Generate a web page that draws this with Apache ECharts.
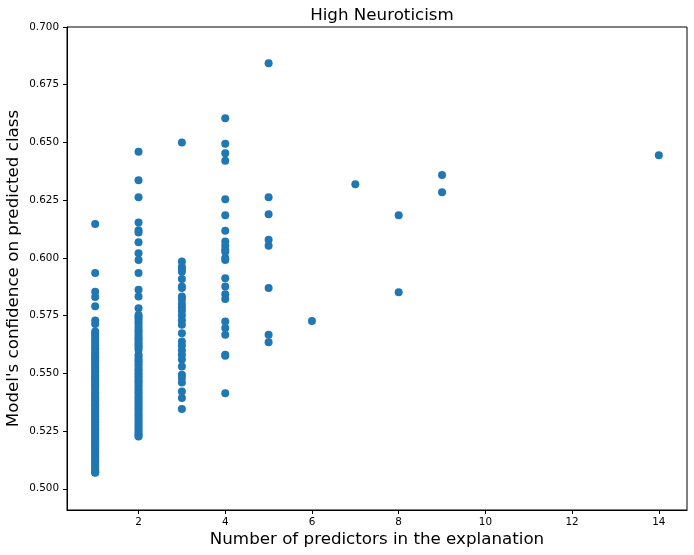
<!DOCTYPE html>
<html>
<head>
<meta charset="utf-8">
<script src="https://cdn.jsdelivr.net/npm/echarts@6/dist/echarts.min.js"></script>
<style>
  html, body { margin: 0; padding: 0; background: #fff; }
  #chart { width: 694px; height: 555px; }
</style>
</head>
<body>
<div id="chart"></div>
<script>
// number of predictors -> model confidence values
const conf1 = [0.6147, 0.5935, 0.5853, 0.5831, 0.5791, 0.5729, 0.5714, 0.5681, 0.5672, 0.5663,
  0.5650, 0.5641, 0.5632, 0.5620, 0.5611, 0.5603, 0.5590, 0.5581, 0.5572, 0.5565, 0.5556,
  0.5548, 0.5537, 0.5528, 0.5519, 0.5510, 0.5502, 0.5491, 0.5483, 0.5474, 0.5466, 0.5455,
  0.5447, 0.5438, 0.5429, 0.5418, 0.5410, 0.5401, 0.5392, 0.5384, 0.5376, 0.5365, 0.5357,
  0.5348, 0.5339, 0.5331, 0.5322, 0.5314, 0.5305, 0.5296, 0.5288, 0.5279, 0.5270, 0.5262,
  0.5253, 0.5244, 0.5236, 0.5227, 0.5218, 0.5210, 0.5201, 0.5193, 0.5184, 0.5176, 0.5167,
  0.5158, 0.5150, 0.5141, 0.5133, 0.5124, 0.5116, 0.5107, 0.5099, 0.5090, 0.5082, 0.5076,
  0.5071, 0.5069];
const conf2 = [0.6460, 0.6336, 0.6263, 0.6153, 0.6120, 0.6110, 0.6068, 0.6020, 0.5991, 0.5934,
  0.5862, 0.5833, 0.5782, 0.5753, 0.5745, 0.5736, 0.5724, 0.5715, 0.5702, 0.5690, 0.5681,
  0.5670, 0.5658, 0.5650, 0.5641, 0.5630, 0.5622, 0.5612, 0.5602, 0.5580, 0.5571, 0.5560,
  0.5552, 0.5541, 0.5532, 0.5520, 0.5511, 0.5500, 0.5490, 0.5481, 0.5470, 0.5461, 0.5450,
  0.5441, 0.5430, 0.5420, 0.5411, 0.5400, 0.5390, 0.5381, 0.5370, 0.5360, 0.5350, 0.5341,
  0.5330, 0.5320, 0.5311, 0.5300, 0.5290, 0.5280, 0.5271, 0.5260, 0.5250, 0.5240, 0.5232,
  0.5226];
const conf3 = [0.6500, 0.5984, 0.5962, 0.5950, 0.5940, 0.5908, 0.5876, 0.5870, 0.5833, 0.5820,
  0.5800, 0.5785, 0.5770, 0.5750, 0.5730, 0.5710, 0.5674, 0.5638, 0.5620, 0.5600, 0.5580,
  0.5560, 0.5530, 0.5494, 0.5480, 0.5460, 0.5421, 0.5393, 0.5345];
const conf4 = [0.6605, 0.6494, 0.6453, 0.6421, 0.6254, 0.6185, 0.6117, 0.6071, 0.6053, 0.6035,
  0.6027, 0.6000, 0.5991, 0.5912, 0.5876, 0.5843, 0.5822, 0.5724, 0.5696, 0.5667, 0.5580,
  0.5576, 0.5414];
const conf5 = [0.6843, 0.6263, 0.6189, 0.6078, 0.6053, 0.5869, 0.5667, 0.5635];
const conf6 = [0.5727];
const conf7 = [0.6319];
const conf8 = [0.6185, 0.5851];
const conf9 = [0.6359, 0.6284];
const conf14 = [0.6445];

const predictorCounts = [1, 2, 3, 4, 5, 6, 7, 8, 9, 14];
const confByCount = [conf1, conf2, conf3, conf4, conf5, conf6, conf7, conf8, conf9, conf14];

const xTicks = [2, 4, 6, 8, 10, 12, 14];
const yTicks = [0.500, 0.525, 0.550, 0.575, 0.600, 0.625, 0.650, 0.675, 0.700];

const points = [];
predictorCounts.forEach((n, i) => {
  confByCount[i].forEach(v => points.push([n, v]));
});

const axisText = { color: '#000', fontSize: 10.4, fontFamily: 'DejaVu Sans' };
const nameText = { color: '#000', fontSize: 16.7, fontFamily: 'DejaVu Sans' };

const myChart = echarts.init(document.getElementById('chart'));
myChart.setOption({
  animation: false,
  backgroundColor: '#fff',
  title: {
    text: 'High Neuroticism',
    left: 377,
    top: 2,
    textAlign: 'center',
    textStyle: { color: '#000', fontSize: 16.7, fontWeight: 'normal', fontFamily: 'DejaVu Sans' }
  },
  grid: {
    left: 67, right: 7, top: 27, bottom: 45,
    outerBoundsMode: 'none',
    containLabel: false,
    show: true, borderColor: '#000', borderWidth: 1, backgroundColor: 'transparent'
  },
  xAxis: {
    type: 'value',
    min: 0.35,
    max: 14.65,
    name: 'Number of predictors in the explanation',
    nameLocation: 'middle',
    nameGap: 21,
    nameMoveOverlap: false,
    nameTextStyle: nameText,
    axisLine: { onZero: false, lineStyle: { color: '#000', width: 1 } },
    axisTick: { show: true, length: 4, customValues: xTicks, lineStyle: { color: '#000' } },
    axisLabel: Object.assign({ customValues: xTicks, margin: 7 }, axisText),
    splitLine: { show: false }
  },
  yAxis: {
    type: 'value',
    min: 0.4908,
    max: 0.7,
    name: "Model's confidence on predicted class",
    nameLocation: 'middle',
    nameGap: 45,
    nameMoveOverlap: false,
    nameTextStyle: nameText,
    axisLine: { onZero: false, lineStyle: { color: '#000', width: 1 } },
    axisTick: { show: true, length: 4, customValues: yTicks, lineStyle: { color: '#000' } },
    axisLabel: Object.assign({
      customValues: yTicks,
      margin: 8,
      formatter: v => v.toFixed(3)
    }, axisText),
    splitLine: { show: false }
  },
  series: [{
    type: 'scatter',
    data: points,
    symbolSize: 8,
    itemStyle: { color: '#1f77b4', opacity: 1 },
    emphasis: { disabled: true }
  }]
});
</script>
</body>
</html>
